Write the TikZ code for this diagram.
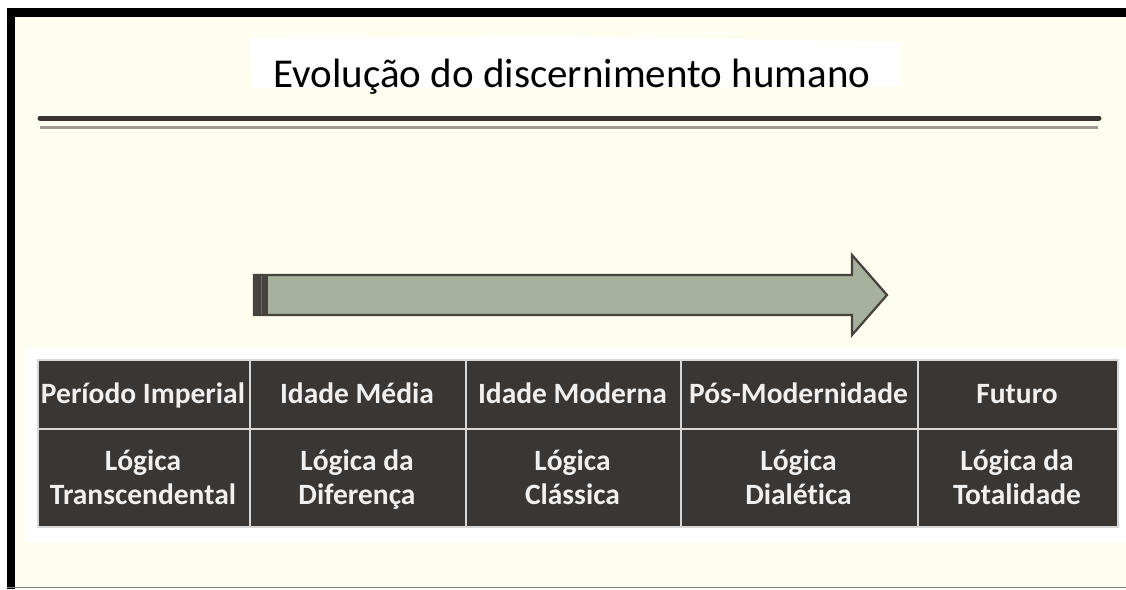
\documentclass[tikz,border=0pt]{standalone}
\usepackage{fontspec}
\setmainfont{Carlito}[Ligatures=NoCommon]
\definecolor{cream}{RGB}{254,254,240}
\definecolor{celldark}{RGB}{57,54,52}
\definecolor{gridline}{RGB}{215,215,215}
\definecolor{celltext}{RGB}{240,240,240}
\definecolor{arrowfill}{RGB}{166,176,156}
\definecolor{arrowedge}{RGB}{70,66,62}
\definecolor{ruledark}{RGB}{58,52,49}
\definecolor{rulelight}{RGB}{160,154,148}
\tikzset{
  cell/.style={draw=gridline, line width=1.6pt, fill=celldark,
    inner sep=0pt, anchor=north west},
  celltxt/.style={text=celltext, inner sep=0pt, anchor=base,
    font=\bfseries\fontsize{29.5}{34}\selectfont},
  titletext/.style={font=\fontsize{41}{44}\selectfont, text=black, inner sep=0pt, anchor=base}
}
\begin{document}
\begin{tikzpicture}[x=1pt,y=-1pt]
\useasboundingbox (0,0) rectangle (1126,589);
\fill[white] (0,0) rectangle (1126,589);
% cream background
\fill[cream] (7,8) rectangle (1126,589);
% frame
\fill[black] (7,8) rectangle (1126,17);
\fill[black] (7,8) rectangle (15,589);
\draw[gray, line width=1.5pt] (7,587.5) -- (1126,587.5);
% title patch and title
\fill[white] (250,38) -- (560,36) -- (900,42) -- (900,86) -- (560,88) -- (252,88) -- cycle;
\node[titletext] (title) at (572,87) {Evolução do discernimento humano};
% double rule
\coordinate (r1a) at (40,118);
\coordinate (r1b) at (1099,118);
\coordinate (r2a) at (40,127.5);
\coordinate (r2b) at (1098,127.5);
\draw[ruledark, line width=5pt, line cap=round] (r1a) -- (r1b);
\draw[rulelight, line width=3.5pt] (r2a) -- (r2b);
% arrow
\draw[arrowedge, line width=2.2pt, fill=arrowfill, line join=miter]
  (254,275) -- (852,275) -- (852,255) -- (887,295) -- (852,335) -- (852,315) -- (254,315) -- cycle;
\fill[arrowedge] (254,275) rectangle (268,315);
\draw[arrowedge!60!arrowfill, line width=1pt] (261,276) -- (261,314);
% white background of table
\fill[white] (25,348) rectangle (1126,542);
% table cells
\node[cell, minimum width=212pt, minimum height=69pt] (h1) at (37,359) {};
\node[cell, minimum width=216pt, minimum height=69pt] (h2) at (249,359) {};
\node[cell, minimum width=215pt, minimum height=69pt] (h3) at (465,359) {};
\node[cell, minimum width=237pt, minimum height=69pt] (h4) at (680,359) {};
\node[cell, minimum width=200pt, minimum height=69pt] (h5) at (917,359) {};
\node[cell, minimum width=212pt, minimum height=98pt] (c1) at (37,428) {};
\node[cell, minimum width=216pt, minimum height=98pt] (c2) at (249,428) {};
\node[cell, minimum width=215pt, minimum height=98pt] (c3) at (465,428) {};
\node[cell, minimum width=237pt, minimum height=98pt] (c4) at (680,428) {};
\node[cell, minimum width=200pt, minimum height=98pt] (c5) at (917,428) {};
% header texts
\node[celltxt] (th1) at (143,403) {Período Imperial};
\node[celltxt] (th2) at (357,403) {Idade Média};
\node[celltxt] (th3) at (572.5,403) {Idade Moderna};
\node[celltxt] (th4) at (798.5,403) {Pós-Modernidade};
\node[celltxt] (th5) at (1017,403) {Futuro};
% second row texts
\node[celltxt] (ta1) at (143,470) {Lógica};
\node[celltxt] (tb1) at (143,504) {Transcendental};
\node[celltxt] (ta2) at (357,470) {Lógica da};
\node[celltxt] (tb2) at (357,504) {Diferença};
\node[celltxt] (ta3) at (572.5,470) {Lógica};
\node[celltxt] (tb3) at (572.5,504) {Clássica};
\node[celltxt] (ta4) at (798.5,470) {Lógica};
\node[celltxt] (tb4) at (798.5,504) {Dialética};
\node[celltxt] (ta5) at (1017,470) {Lógica da};
\node[celltxt] (tb5) at (1017,504) {Totalidade};
\end{tikzpicture}
\end{document}
